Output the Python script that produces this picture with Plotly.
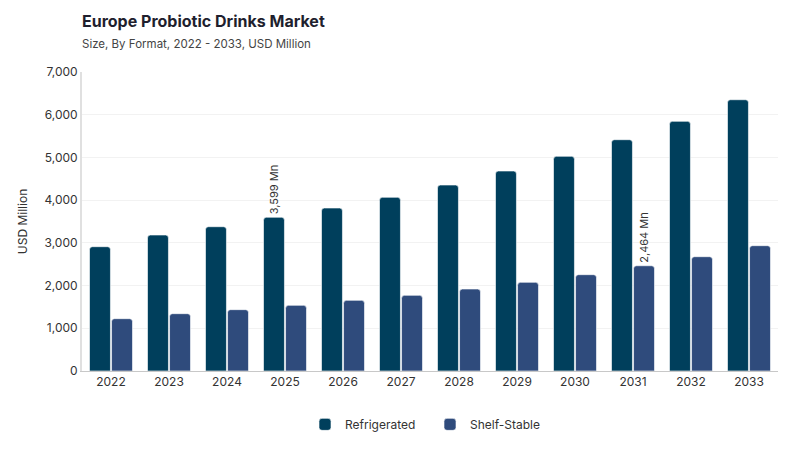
import plotly.graph_objects as go

years = ['2022', '2023', '2024', '2025', '2026', '2027', '2028', '2029', '2030', '2031', '2032', '2033']
refrigerated = [2910, 3184, 3378, 3599, 3816, 4066, 4354, 4682, 5026, 5415, 5845, 6351]
shelf_stable = [1225, 1342, 1436, 1537, 1654, 1771, 1919, 2076, 2255, 2464, 2676, 2934]

# only two bars carry a value label
refr_labels = ['' if y != '2025' else f'{v:,} Mn' for y, v in zip(years, refrigerated)]
shelf_labels = ['' if y != '2031' else f'{v:,} Mn' for y, v in zip(years, shelf_stable)]

font_family = "Inter, Open Sans, sans-serif"

fig = go.Figure()
fig.add_bar(name='Refrigerated', x=years, y=refrigerated,
            marker=dict(color='#003F5C', cornerradius=3,
                        line=dict(color='rgba(255,255,255,0.6)', width=1)),
            text=refr_labels, textposition='outside', textangle=-90, constraintext='none',
            textfont=dict(size=11, color='#333333'))
fig.add_bar(name='Shelf-Stable', x=years, y=shelf_stable,
            marker=dict(color='#2F4B7C', cornerradius=3,
                        line=dict(color='rgba(255,255,255,0.6)', width=1)),
            text=shelf_labels, textposition='outside', textangle=-90, constraintext='none',
            textfont=dict(size=11, color='#333333'))

fig.update_traces(cliponaxis=False)
fig.update_layout(
    width=800, height=450,
    barmode='group', bargap=0.24, bargroupgap=0.05,
    plot_bgcolor='white', paper_bgcolor='white',
    font=dict(family=font_family, size=12, color='#333333'),
    margin=dict(l=82, r=22, t=72, b=79, autoexpand=False),
    title=dict(
        text="<b>Europe Probiotic Drinks Market</b><br>"
             "<span style='font-size:11.5px;color:#444444;'>Size, By Format, 2022 - 2033, USD Million</span>",
        x=82 / 800, xanchor='left', y=0.94, yanchor='top',
        font=dict(size=16, color='#1f1f2e', family=font_family)),
    legend=dict(orientation='h', x=0.5, xanchor='center', y=-0.13, yanchor='top',
                font=dict(size=12, color='#333333'), itemwidth=30,
                entrywidth=80),
    showlegend=True,
)
fig.update_xaxes(showgrid=False, showline=True, linecolor='#c8c8c8', linewidth=1,
                 ticks='', tickfont=dict(size=12, color='#333333'))
fig.update_yaxes(title_text='USD Million', title_font=dict(size=12, color='#333333'),
                 title_standoff=14,
                 range=[0, 7000], dtick=1000, tickformat=',',
                 showgrid=True, gridcolor='#f2f2f2', gridwidth=1,
                 showline=True, linecolor='#e0e0e0', linewidth=2,
                 zeroline=False, ticks='', ticklen=6,
                 tickfont=dict(size=12, color='#333333'))

# drop the default page margin so the figure sits at the window origin
fig.write_html("out.html", config={'displayModeBar': False},
               post_script="document.body.style.margin='0';")
